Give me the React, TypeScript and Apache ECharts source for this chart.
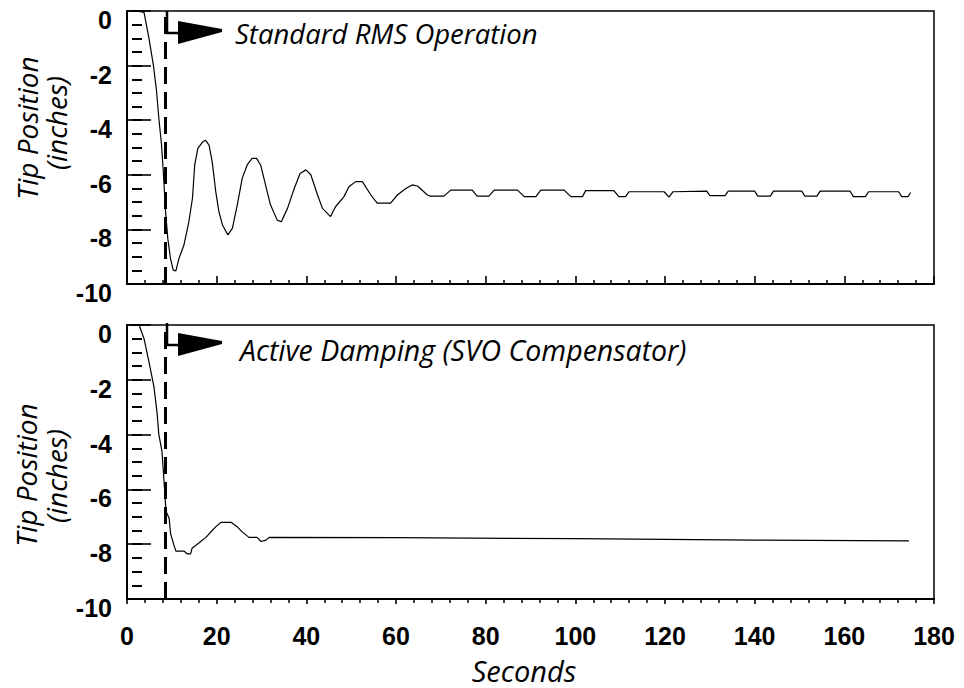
import React, { useEffect, useRef } from "react";
import * as echarts from "echarts";

// ---- data ----
const X_MIN = 0;
const X_MAX = 180;
const X_STEP = 20;
const Y_MIN = -10;
const Y_MAX = 0;
const Y_STEP = 2;
const DASH_T = 8.5;

const TOP_TITLE = "Standard RMS Operation";
const BOTTOM_TITLE = "Active Damping (SVO Compensator)";
const Y_TITLE_1 = "Tip Position";
const Y_TITLE_2 = "(inches)";
const X_TITLE = "Seconds";

const TOP_T = [
  2.2, 3.8, 4.9, 5.9, 6.6, 7.1, 7.7, 8.1, 8.6, 9.1, 9.7, 10.3, 10.9, 11.6, 12.7, 13.8, 14.6, 15.1,
  15.8, 16.8, 17.5, 18.3, 19.0, 19.8, 20.5, 21.3, 22.5, 23.5, 24.6, 25.7, 26.8, 27.9, 28.9, 29.8,
  30.9, 32.0, 33.5, 34.4, 35.8, 37.3, 38.6, 39.9, 41.0, 42.5, 43.6, 45.4, 46.5, 48.4, 49.5, 51.0,
  52.5, 54.4, 55.8, 58.8, 60.3, 62.2, 63.6, 64.8, 67.0, 67.7, 70.7, 72.2, 77.0, 78.1, 80.7, 81.9,
  87.1, 88.6, 91.2, 92.3, 97.5, 99.0, 101.6, 102.3, 108.6, 109.7, 111.2, 112.0, 119.8, 120.9,
  121.8, 129.3, 130.0, 133.4, 134.1, 140.0, 140.7, 143.5, 144.2, 150.5, 151.2, 153.9, 154.6,
  161.3, 162.0, 164.7, 165.4, 172.1, 172.8, 174.2, 174.8,
];
const TOP_V = [
  0.0, -0.05, -1.0, -2.0, -2.95, -3.93, -4.9, -5.9, -7.35, -8.33, -9.06, -9.49, -9.52, -9.06,
  -8.57, -7.72, -6.86, -5.64, -5.03, -4.81, -4.73, -4.91, -5.52, -6.62, -7.35, -7.84, -8.2, -7.96,
  -7.1, -6.13, -5.64, -5.4, -5.4, -5.64, -6.37, -7.1, -7.66, -7.72, -7.23, -6.5, -5.95, -5.82,
  -6.0, -6.74, -7.23, -7.53, -7.17, -6.8, -6.44, -6.25, -6.25, -6.74, -7.04, -7.04, -6.74, -6.5,
  -6.37, -6.41, -6.74, -6.78, -6.78, -6.56, -6.56, -6.78, -6.78, -6.56, -6.56, -6.8, -6.8, -6.56,
  -6.56, -6.8, -6.8, -6.58, -6.58, -6.8, -6.8, -6.62, -6.62, -6.82, -6.62, -6.6, -6.76, -6.76,
  -6.6, -6.6, -6.78, -6.78, -6.6, -6.6, -6.78, -6.78, -6.6, -6.6, -6.8, -6.8, -6.62, -6.62,
  -6.8, -6.8, -6.65,
];

const BOTTOM_T = [
  2.7, 3.8, 4.9, 6.0, 6.7, 7.1, 7.8, 8.3, 8.7, 9.4, 9.7, 10.5, 10.9, 12.7, 13.4, 14.2, 14.5, 16.1,
  17.6, 19.0, 19.9, 21.0, 23.2, 24.5, 25.7, 27.2, 29.0, 29.9, 31.0, 31.7, 60.0, 100.0, 140.0, 174.4,
];
const BOTTOM_V = [
  0.0, -0.5, -1.35, -2.25, -3.2, -4.0, -4.6, -5.8, -6.8, -7.05, -7.6, -8.05, -8.25, -8.25, -8.35,
  -8.35, -8.15, -7.95, -7.75, -7.5, -7.35, -7.2, -7.2, -7.35, -7.55, -7.75, -7.75, -7.9, -7.85,
  -7.75, -7.76, -7.8, -7.85, -7.88,
];

const TICK_FONT = "'Liberation Sans', Arial, Helvetica, sans-serif";
const TITLE_FONT = "'Open Sans', 'Noto Sans', sans-serif";

function yAxes(gridIndex: number) {
  return [
    {
      type: "value",
      gridIndex,
      position: "left",
      min: Y_MIN,
      max: Y_MAX,
      interval: Y_STEP,
      axisLine: { show: true, onZero: false, lineStyle: { color: "#000", width: 2 } },
      axisTick: { show: true, inside: true, length: 24, lineStyle: { color: "#000", width: 1.6 } },
      axisLabel: {
        show: true,
        color: "#000",
        fontSize: 25,
        fontFamily: TICK_FONT,
        fontWeight: "bold",
        margin: 15,
        verticalAlign: "top",
        lineHeight: 18,
      },
      splitLine: { show: false },
    },
    {
      type: "value",
      gridIndex,
      position: "left",
      offset: -5,
      min: Y_MIN,
      max: Y_MAX,
      interval: 0.5,
      axisLine: { show: false },
      axisTick: { show: true, inside: true, length: 10, lineStyle: { color: "#000", width: 2 } },
      axisLabel: { show: false },
      splitLine: { show: false },
    },
  ];
}

function xAxis(gridIndex: number, showLabels: boolean) {
  return {
    type: "value",
    gridIndex,
    min: X_MIN,
    max: X_MAX,
    interval: X_STEP,
    axisLine: { show: true, onZero: false, lineStyle: { color: "#000", width: 2 } },
    axisTick: {
      show: true,
      inside: !showLabels,
      length: showLabels ? 5 : 8,
      lineStyle: { color: "#000", width: 1.6 },
    },
    minorTick: {
      show: true,
      splitNumber: 5,
      length: 4,
      lineStyle: { color: "#000", width: 1.5 },
    },
    axisLabel: {
      show: showLabels,
      color: "#000",
      fontSize: 25,
      fontFamily: TICK_FONT,
      fontWeight: "bold",
      margin: 24,
    },
    splitLine: { show: false },
    minorSplitLine: { show: false },
  };
}

function lineSeries(name: string, xi: number, yi: number, ts: number[], vs: number[]) {
  return {
    name,
    type: "line",
    xAxisIndex: xi,
    yAxisIndex: yi,
    data: ts.map((t, i) => [t, vs[i]]),
    showSymbol: false,
    symbol: "none",
    lineStyle: { color: "#000", width: 1.2 },
    markLine: {
      silent: true,
      symbol: "none",
      label: { show: false },
      lineStyle: { color: "#000", width: 3, type: [17, 8] },
      data: [{ xAxis: DASH_T }],
    },
    z: 3,
  };
}

function arrowGraphics(top: number) {
  const lineY = top + 22;
  return [
    {
      type: "polyline",
      shape: { points: [[167, top], [167, lineY], [180, lineY]] },
      style: { stroke: "#000", lineWidth: 2.5, fill: null },
      z: 10,
    },
    {
      type: "polygon",
      shape: {
        points: [
          [178, top + 10],
          [200, top + 14],
          [222, top + 18],
          [222, top + 21],
          [178, top + 33],
        ],
      },
      style: { fill: "#000" },
      z: 10,
    },
  ];
}

function yTitle(cx1: number, cy1: number, cx2: number, cy2: number) {
  return [
    {
      type: "text",
      x: cx1,
      y: cy1,
      rotation: Math.PI / 2,
      style: {
        text: Y_TITLE_1,
        fill: "#000",
        font: `italic 28px ${TITLE_FONT}`,
        align: "center",
        verticalAlign: "middle",
      },
    },
    {
      type: "text",
      x: cx2,
      y: cy2,
      rotation: Math.PI / 2,
      style: {
        text: Y_TITLE_2,
        fill: "#000",
        font: `italic 28px ${TITLE_FONT}`,
        align: "center",
        verticalAlign: "middle",
      },
    },
  ];
}

export default function App() {
  const ref = useRef<HTMLDivElement>(null);

  useEffect(() => {
    if (!ref.current) return;
    const chart = echarts.init(ref.current, null, { renderer: "svg" });
    const option = {
      animation: false,
      backgroundColor: "#fff",
      grid: [
        { left: 127, right: 30, top: 11, height: 273, show: true, borderColor: "#000", borderWidth: 1.5, containLabel: false },
        { left: 127, right: 30, top: 325, height: 274, show: true, borderColor: "#000", borderWidth: 1.5, containLabel: false },
      ],
      xAxis: [xAxis(0, false), xAxis(1, true)],
      yAxis: [...yAxes(0), ...yAxes(1)],
      series: [
        lineSeries("Standard RMS Operation", 0, 0, TOP_T, TOP_V),
        lineSeries("Active Damping (SVO Compensator)", 1, 2, BOTTOM_T, BOTTOM_V),
      ],
      graphic: [
        ...arrowGraphics(11),
        ...arrowGraphics(323),
        {
          type: "text",
          x: 235,
          y: 33,
          style: { text: TOP_TITLE, fill: "#000", font: `italic 27.5px ${TITLE_FONT}`, align: "left", verticalAlign: "middle" },
        },
        {
          type: "text",
          x: 240,
          y: 350,
          style: { text: BOTTOM_TITLE, fill: "#000", font: `italic 28.5px ${TITLE_FONT}`, align: "left", verticalAlign: "middle" },
        },
        ...yTitle(27, 128, 56, 123),
        ...yTitle(26, 475, 56, 476),
        {
          type: "text",
          x: 524,
          y: 670,
          style: { text: X_TITLE, fill: "#000", font: `italic 29px ${TITLE_FONT}`, align: "center", verticalAlign: "middle" },
        },
      ],
    };
    chart.setOption(option as any);
    return () => chart.dispose();
  }, []);

  return (
    <div
      ref={ref}
      style={{ position: "absolute", left: 0, top: 0, width: 964, height: 688, background: "#fff" }}
    />
  );
}
